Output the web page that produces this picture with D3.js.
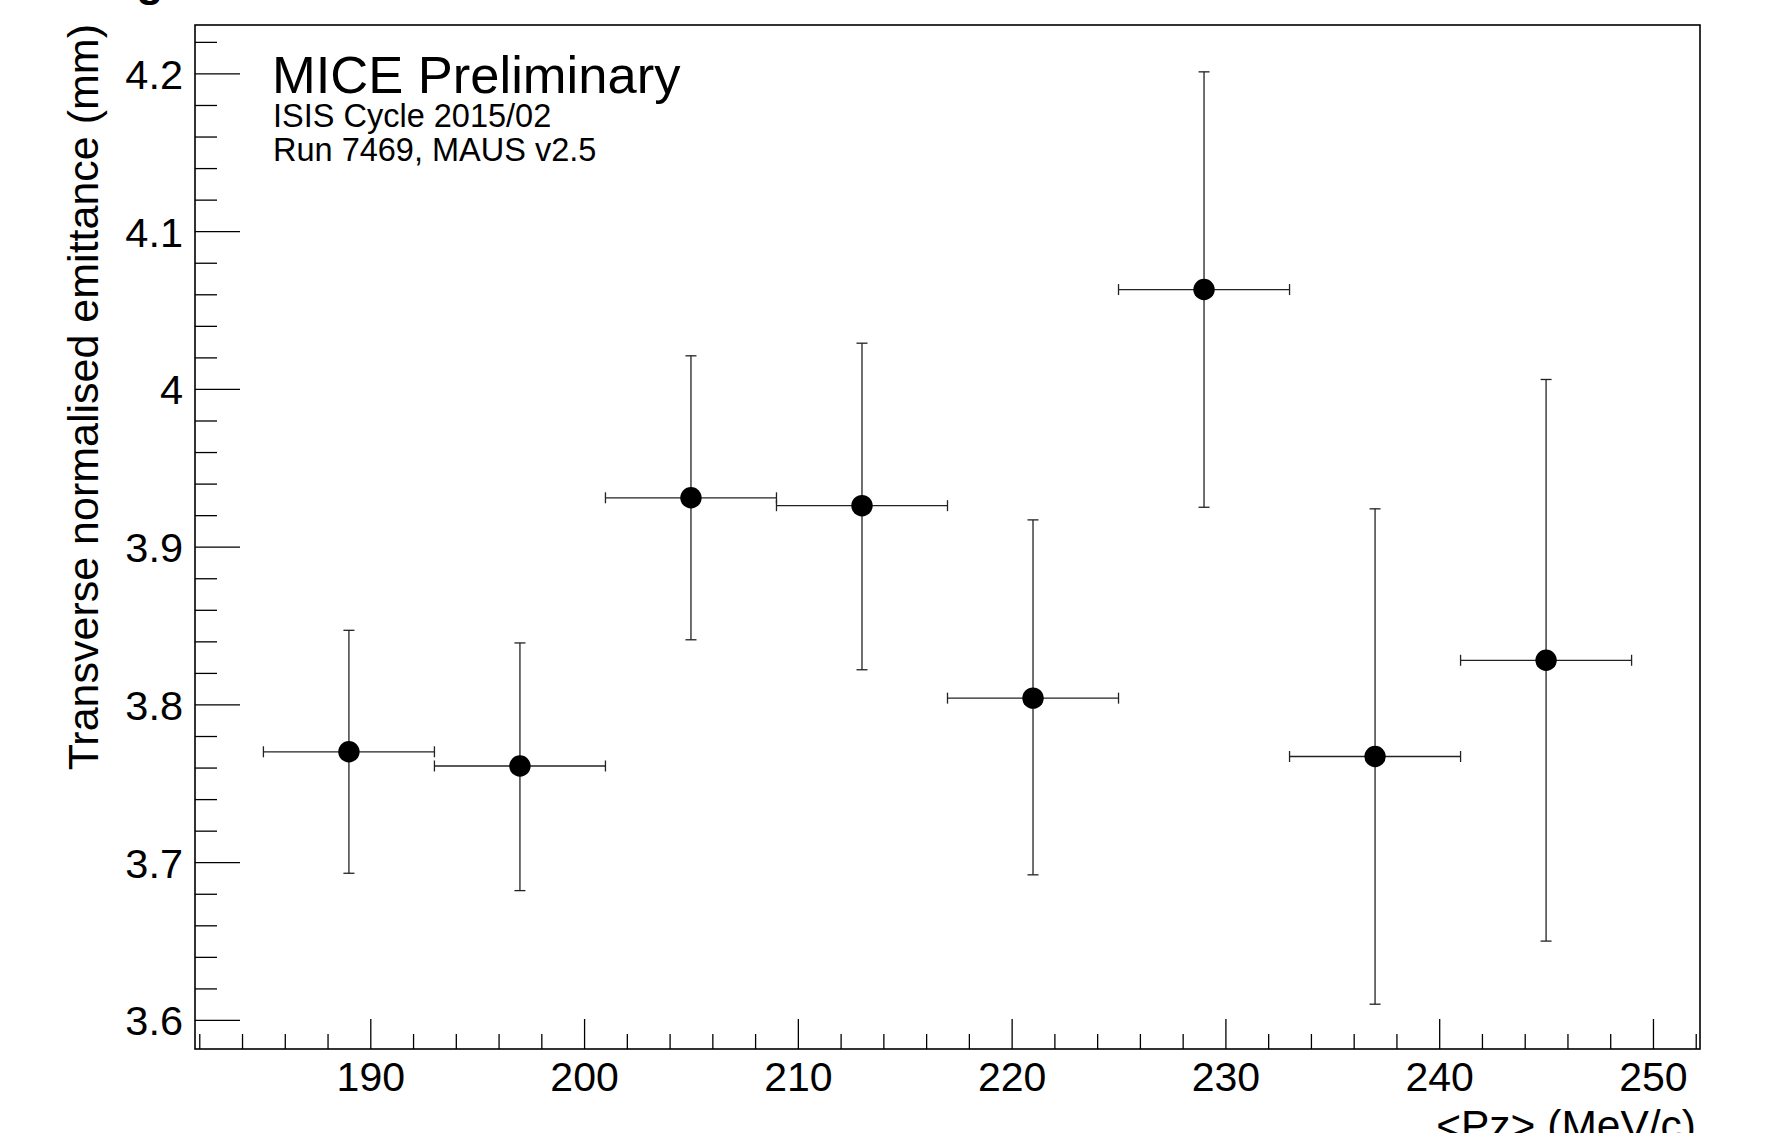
<!DOCTYPE html>
<html>
<head>
<meta charset="utf-8">
<script src="https://cdn.jsdelivr.net/npm/d3@7"></script>
<style>
  html, body { margin: 0; padding: 0; background: #fff; }
  svg { display: block; }
  text { font-family: "Liberation Sans", Arial, Helvetica, sans-serif; fill: #000; }
</style>
</head>
<body>
<script>
// ---- data ----
const pz       = [189, 197, 205, 213, 221, 229, 237, 245];
const pzErr    = [4, 4, 4, 4, 4, 4, 4, 4];
const emit     = [3.770, 3.761, 3.931, 3.926, 3.804, 4.063, 3.767, 3.828];
const emitUp   = [3.847, 3.839, 4.021, 4.029, 3.917, 4.201, 3.924, 4.006];
const emitDown = [3.693, 3.682, 3.841, 3.822, 3.692, 3.925, 3.610, 3.650];
const xTicks = [190, 200, 210, 220, 230, 240, 250];
const xTickLabels = ["190", "200", "210", "220", "230", "240", "250"];
const yTicks = [3.6, 3.7, 3.8, 3.9, 4.0, 4.1, 4.2];
const yTickLabels = ["3.6", "3.7", "3.8", "3.9", "4", "4.1", "4.2"];
const xMinorTicks = [182, 184, 186, 188, 192, 194, 196, 198, 202, 204, 206, 208, 212, 214, 216, 218,
                     222, 224, 226, 228, 232, 234, 236, 238, 242, 244, 246, 248, 252];
const yMinorTicks = [3.62, 3.64, 3.66, 3.68, 3.72, 3.74, 3.76, 3.78, 3.82, 3.84, 3.86, 3.88,
                     3.92, 3.94, 3.96, 3.98, 4.02, 4.04, 4.06, 4.08, 4.12, 4.14, 4.16, 4.18, 4.22];
const xDomain = [181.8, 252.2];
const yDomain = [3.5816, 4.2307];
const titleText = "MICE Preliminary";
const infoLines = ["ISIS Cycle 2015/02", "Run 7469, MAUS v2.5"];
const xTitle = "<Pz> (MeV/c)";
const yTitle = "Transverse normalised emittance (mm)";

// ---- layout ----
const W = 1769, H = 1133;
const L = 195, R = 1700, T = 25, B = 1049;

const svg = d3.select("body").append("svg").attr("width", W).attr("height", H);

const x = d3.scaleLinear().domain(xDomain).range([L, R]);
const y = d3.scaleLinear().domain(yDomain).range([B, T]);

const points = pz.map((p, i) => ({ x: p, ex: pzErr[i], y: emit[i], up: emitUp[i], dn: emitDown[i] }));

// cropped glyph at the very top
svg.append("text").attr("x", 150).attr("y", -4).attr("text-anchor", "middle")
  .attr("font-size", 44).attr("font-weight", "bold").text("g");

// axes
const xMajor = d3.axisBottom(x).tickValues(xTicks).tickSize(-30).tickPadding(13)
  .tickFormat((d, i) => xTickLabels[i]);
const gx = svg.append("g").attr("transform", `translate(0,${B})`).call(xMajor);
gx.selectAll("text").attr("font-size", 41);

const xMinor = d3.axisBottom(x).tickValues(xMinorTicks).tickSize(-15).tickFormat("");
svg.append("g").attr("transform", `translate(0,${B})`).call(xMinor);

const yMajor = d3.axisLeft(y).tickValues(yTicks).tickSize(-45).tickPadding(12)
  .tickFormat((d, i) => yTickLabels[i]);
const gy = svg.append("g").attr("transform", `translate(${L},0)`).call(yMajor);
gy.selectAll("text").attr("font-size", 41.5).attr("dy", "0.36em");

const yMinor = d3.axisLeft(y).tickValues(yMinorTicks).tickSize(-22).tickFormat("");
svg.append("g").attr("transform", `translate(${L},0)`).call(yMinor);

svg.selectAll(".domain").remove();
svg.selectAll(".tick line").attr("stroke", "#000").attr("stroke-width", 1.3);

// frame
svg.append("rect").attr("x", L).attr("y", T).attr("width", R - L).attr("height", B - T)
  .attr("fill", "none").attr("stroke", "#000").attr("stroke-width", 1.6);

// error bars
const eb = svg.append("g").attr("stroke", "#222").attr("stroke-width", 1.3).attr("fill", "none");
const capH = 5.5;
points.forEach(d => {
  const cx = x(d.x), cy = y(d.y);
  const x0 = x(d.x - d.ex), x1 = x(d.x + d.ex);
  const yU = y(d.up), yD = y(d.dn);
  eb.append("line").attr("x1", x0).attr("x2", x1).attr("y1", cy).attr("y2", cy);
  eb.append("line").attr("x1", x0).attr("x2", x0).attr("y1", cy - capH).attr("y2", cy + capH);
  eb.append("line").attr("x1", x1).attr("x2", x1).attr("y1", cy - capH).attr("y2", cy + capH);
  eb.append("line").attr("x1", cx).attr("x2", cx).attr("y1", yU).attr("y2", yD);
  eb.append("line").attr("x1", cx - capH).attr("x2", cx + capH).attr("y1", yU).attr("y2", yU);
  eb.append("line").attr("x1", cx - capH).attr("x2", cx + capH).attr("y1", yD).attr("y2", yD);
});

// markers
svg.append("g").selectAll("circle").data(points).join("circle")
  .attr("cx", d => x(d.x)).attr("cy", d => y(d.y)).attr("r", 10.7).attr("fill", "#000");

// texts
svg.append("text").attr("x", 272).attr("y", 93).attr("font-size", 52.5).text(titleText);
svg.append("text").attr("x", 273).attr("y", 127).attr("font-size", 32.5).text(infoLines[0]);
svg.append("text").attr("x", 273).attr("y", 160.5).attr("font-size", 32.5).text(infoLines[1]);

svg.append("text").attr("x", 1696).attr("y", 1140).attr("text-anchor", "end")
  .attr("font-size", 42.5).text(xTitle);

svg.append("text").attr("transform", "translate(98,24) rotate(-90)").attr("text-anchor", "end")
  .attr("font-size", 43).text(yTitle);
</script>
</body>
</html>
